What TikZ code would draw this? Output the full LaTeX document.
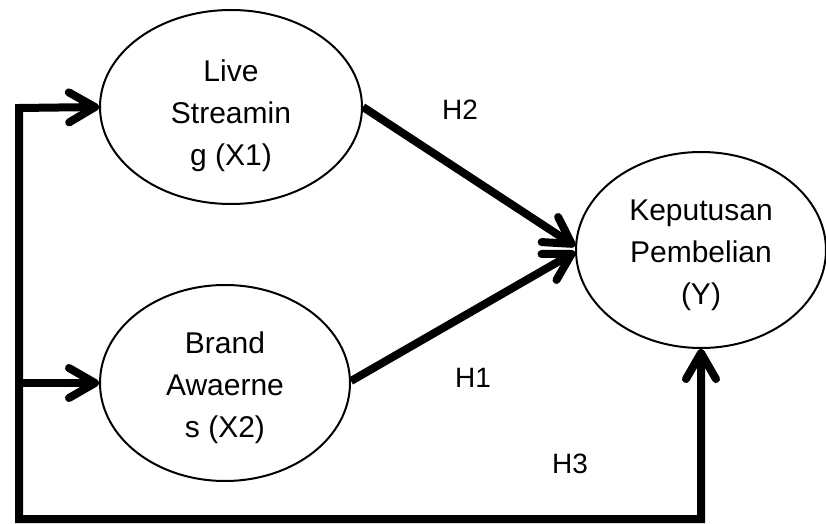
\documentclass[tikz,border=0pt]{standalone}
\usepackage{fontspec}
\setmainfont{Liberation Sans}
\usetikzlibrary{arrows.meta, positioning, shapes.geometric}

\tikzset{
    variabel/.style={draw, ellipse, line width=1pt, inner sep=0pt},
    teks/.style={align=center, inner sep=0pt, font=\fontsize{15}{21}\selectfont},
    hipotesis/.style={font=\fontsize{14}{17}\selectfont},
    ujung/.tip={Straight Barb[length=13pt, width=15pt, line cap=round, line join=round]},
    panah/.style={line width=4pt, line join=miter, -{ujung}},
}

\begin{document}
\begin{tikzpicture}[x=0.5pt, y=-0.5pt]
    \useasboundingbox (0,0) rectangle (826,524);

    \node[variabel, minimum width=131pt, minimum height=97pt] (X1) at (231,107) {};
    \node[variabel, minimum width=125pt, minimum height=98pt] (X2) at (225,383) {};
    \node[variabel, minimum width=125pt, minimum height=98pt] (Y) at (701,250) {};

    \node[teks] (X1-teks) at ([yshift=-4.5pt]X1.center) {Live\\Streamin\\g (X1)};
    \node[teks] (X2-teks) at ([yshift=-2.5pt]X2.center) {Brand\\Awaerne\\s (X2)};
    \node[teks] (Y-teks) at ([yshift=-2.5pt]Y.center) {Keputusan\\Pembelian\\(Y)};

    \coordinate (tl) at (19,108);
    \coordinate (bl) at (19,519);

    \draw[panah, {ujung}-{ujung}]
        (X1.west) -- (tl) -- (bl) -- (bl -| Y.south) -- (Y.south);
    \draw[panah] (X2.west -| tl) -- (X2.west);
    \draw[panah] (X1.east) -- ([yshift=2pt]Y.west);
    \draw[panah] ([yshift=1pt]X2.east) -- ([yshift=-1pt]Y.west);

    \node[hipotesis] (H2) at (460,110) {H2};
    \node[hipotesis] (H1) at (473,378) {H1};
    \node[hipotesis] (H3) at (570,464) {H3};
\end{tikzpicture}
\end{document}
